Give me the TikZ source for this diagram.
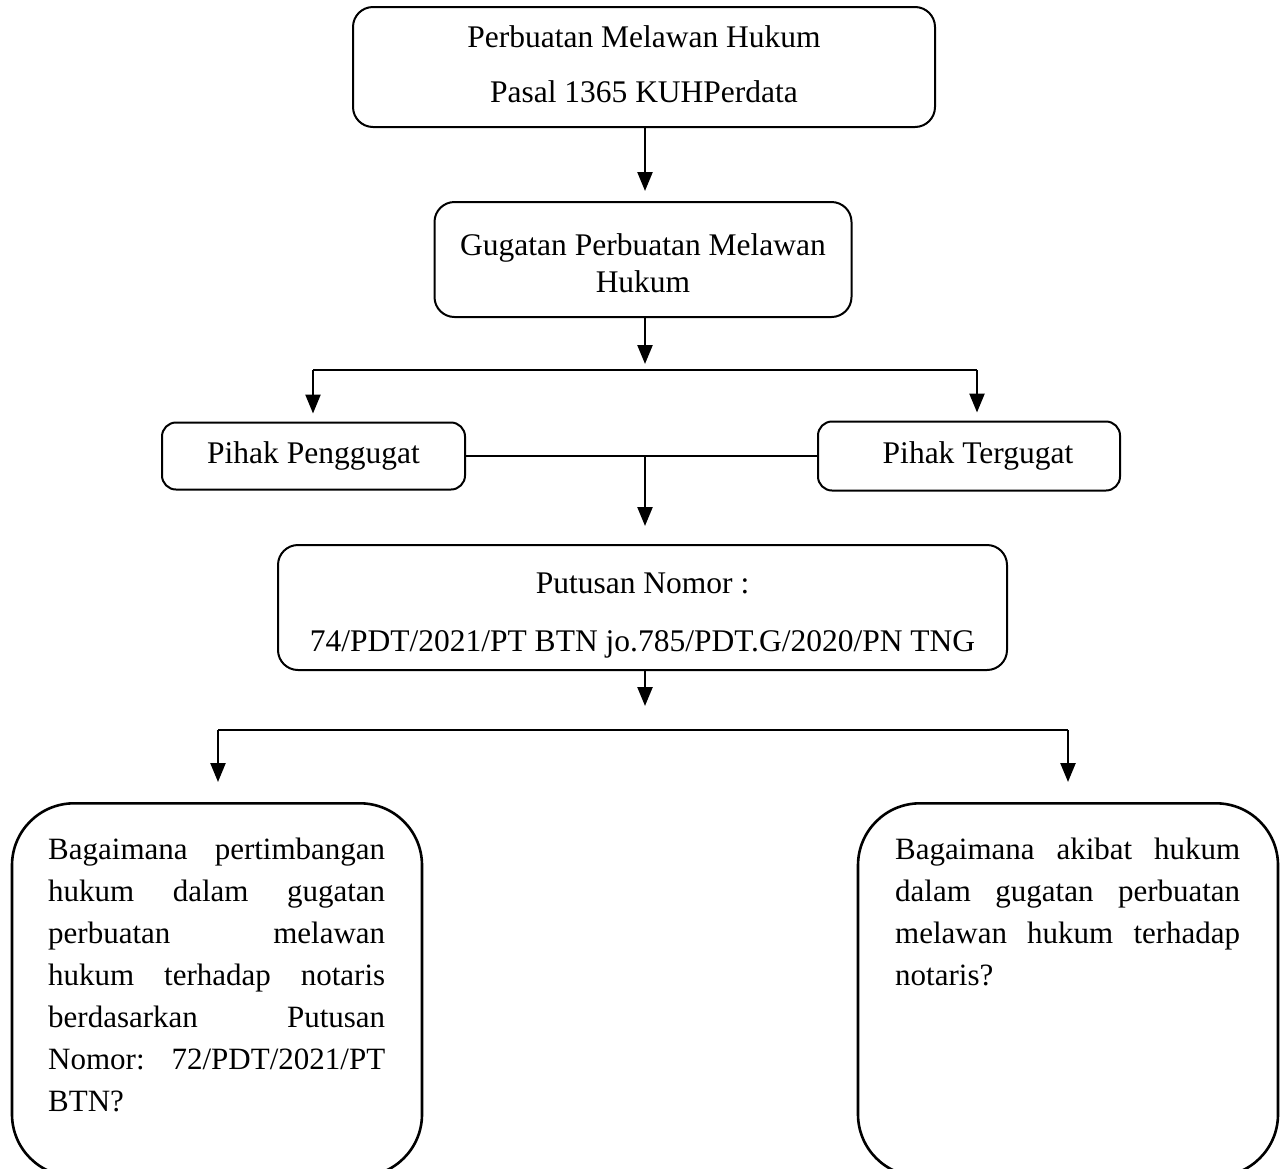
\documentclass[tikz,border=0pt]{standalone}
\usepackage{fontspec}
\setmainfont{Liberation Serif}
\usetikzlibrary{arrows.meta}
\begin{document}
\begin{tikzpicture}[x=1pt,y=-1pt,
  box/.style={draw, line width=2pt, rounded corners=20pt, align=center, inner sep=0pt},
  smallbox/.style={box, rounded corners=14pt},
  qbox/.style={draw, line width=2.6pt, rounded corners=62pt, inner sep=0pt},
  qtext/.style={anchor=north west, inner sep=0pt, align=left, font=\fontsize{31}{42}\selectfont},
  conn/.style={line width=2.4pt, -{Triangle[width=15pt,length=19pt]}},
  bar/.style={line width=1.6pt},
  every node/.style={font=\fontsize{31.5}{37}\selectfont}
]
\useasboundingbox (0,0) rectangle (1282,1168);
\clip (0,0) rectangle (1282,1168);

% boxes
\node[box, minimum width=582pt, minimum height=120pt] (top) at (644,67)
  {Perbuatan Melawan Hukum\\[18pt]Pasal 1365 KUHPerdata\rule[-6pt]{0pt}{6pt}};
\node[box, minimum width=417pt, minimum height=115pt] (gug) at (643,259.5)
  {\rule{0pt}{28.5pt}Gugatan Perbuatan Melawan\\Hukum};
\node[smallbox, minimum width=303pt, minimum height=67pt] (pgg) at (313.5,456)
  {Pihak Penggugat};
\node[smallbox, minimum width=302pt, minimum height=69pt] (tgg) at (969,456)
  {\hspace*{18pt}Pihak Tergugat};
\node[box, minimum width=729pt, minimum height=125pt] (put) at (642.5,607.5)
  {\rule{0pt}{37.5pt}Putusan Nomor :\\[21pt]74/PDT/2021/PT BTN jo.785/PDT.G/2020/PN TNG};
\node[qbox, minimum width=410pt, minimum height=373pt, anchor=north] (ql) at (217,802) {};
\node[qbox, minimum width=420pt, minimum height=373pt, anchor=north] (qr) at (1068,802) {};

\node[qtext] (qlt) at (48,838) {%
  \hbox to 337pt{Bagaimana\hfill pertimbangan}\\
  \hbox to 337pt{hukum\hfill dalam\hfill gugatan}\\
  \hbox to 337pt{perbuatan\hfill melawan}\\
  \hbox to 337pt{hukum\hfill terhadap\hfill notaris}\\
  \hbox to 337pt{berdasarkan\hfill Putusan}\\
  \hbox to 337pt{Nomor:\hfill 72/PDT/2021/PT}\\
  BTN?};
\node[qtext] (qrt) at (895,838) {%
  \hbox to 345pt{Bagaimana\hfill akibat\hfill hukum}\\
  \hbox to 345pt{dalam\hfill gugatan\hfill perbuatan}\\
  \hbox to 345pt{melawan\hfill hukum\hfill terhadap}\\
  notaris?};

% junctions
\coordinate (j1) at (645,370);
\coordinate (j1l) at (313,370);
\coordinate (j1r) at (977,370);
\coordinate (j2) at (645,456);
\coordinate (j3) at (645,730);
\coordinate (j3l) at (218,730);
\coordinate (j3r) at (1068,730);

% connectors
\draw[conn, shorten >=10pt] (top.south -| j1) -- (gug.north -| j1);
\draw[conn, shorten >=6pt] (gug.south -| j1) -- (j1);
\draw[bar] (j1l) -- (j1r);
\draw[conn, shorten >=8pt] (j1l) -- (j1l |- pgg.north);
\draw[conn, shorten >=8pt] (j1r) -- (j1r |- tgg.north);
\draw[bar] (pgg.east) -- (tgg.west);
\draw[conn, shorten >=18pt] (j2) -- (j2 |- put.north);
\draw[conn, shorten >=24pt] (put.south -| j3) -- (j3);
\draw[bar] (j3l) -- (j3r);
\draw[conn, shorten >=20pt] (j3l) -- (j3l |- ql.north);
\draw[conn, shorten >=20pt] (j3r) -- (j3r |- qr.north);
\end{tikzpicture}
\end{document}
